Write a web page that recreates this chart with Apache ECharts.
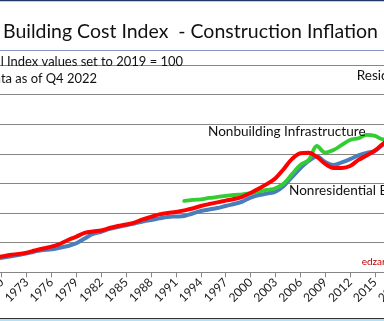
<!DOCTYPE html>
<html><head><meta charset="utf-8">
<script src="https://cdn.jsdelivr.net/npm/echarts@6/dist/echarts.min.js"></script>
<style>html,body{margin:0;padding:0;overflow:hidden;background:#fff;width:384px;height:321px;position:relative}
#c{position:absolute;left:-100px;top:0;width:600px;height:321px}</style>
</head><body><div id="c"></div>
<script>
const years = ['1967','1968','1969','1970','1971','1972','1973','1974','1975','1976','1977','1978','1979','1980','1981','1982','1983','1984','1985','1986','1987','1988','1989','1990','1991','1992','1993','1994','1995','1996','1997','1998','1999','2000','2001','2002','2003','2004','2005','2006','2007','2008','2009','2010','2011','2012','2013','2014','2015','2016','2017','2018','2019','2020','2021','2022','2023'];
const residential = [null,null,10.0,10.7,11.7,12.4,13.2,14.7,16.1,17.3,19.1,21.8,24.1,26.6,27.6,28.2,29.9,31.3,32.3,33.6,35.7,37.4,39.1,40.1,40.7,41.8,43.1,44.8,46.1,47.2,48.4,49.5,51.0,53.5,56.6,59.7,63.5,69.8,76.6,80.4,80.8,77.9,73.2,70.5,70.5,71.8,75.9,78.9,82.3,87.0,91,96,100,104,116,130,null];
const nonresidential = [null,null,9.1,9.8,10.7,11.7,12.8,14.1,15.1,15.5,16.6,17.8,19.6,22.8,25.9,27.4,29.3,30.6,31.8,33.0,34.3,35.3,36.4,37.4,37.7,38.0,39.7,41.4,42.4,43.4,44.8,46.1,47.7,50.5,52.2,53.2,54.5,58.3,64.4,70.3,75.2,78.2,74.5,72.5,74.2,76.4,78.9,80.6,82.0,86.5,89,95,100,103,112,125,null];
const infrastructure = [null,null,null,null,null,null,null,null,null,null,null,null,null,null,null,null,null,null,null,null,null,null,null,null,null,48.2,48.9,49.3,50.2,50.9,51.6,52.2,52.7,53.4,54.6,55.6,56.8,60.0,66.4,72.5,75.9,85.3,80.8,82.6,86.0,89.4,90.5,92.8,92.1,89.7,90,95,100,102,110,122,null];
const yTicks = {min:0, max:140, interval:20};

const OFF = 100;
const FAM = 'Lato, "Open Sans", sans-serif';
const ctx = document.createElement('canvas').getContext('2d');
function fit(text, w){ ctx.font = '100px ' + FAM; return 100 * w / ctx.measureText(text).width; }
const titleText = 'Building Cost Index  - Construction Inflation';
const titleSize = fit(titleText, 375);
const labelSize = fit('Nonbuilding Infrastructure', 157.7);
const subSize = fit('Index values set to 2019 = 100', 176);

function txt(x, y, text, size, opts){
  return Object.assign({type:'text', x: OFF + x, y: y, z: 100,
    style: Object.assign({text: text, fill:'#111', font: size.toFixed(2) + 'px ' + FAM,
      textAlign:'left', textVerticalAlign:'middle'}, opts||{})});
}

const chart = echarts.init(document.getElementById('c'), null, {renderer:'canvas'});
chart.setOption({
  animation:false,
  backgroundColor:'#fff',
  grid:{left:76.8, right:58.6, top:65, bottom:48.7, containLabel:false},
  xAxis:{type:'category', data:years, boundaryGap:false,
    axisLine:{lineStyle:{color:'#868686', width:1}},
    axisTick:{interval:2, length:5, lineStyle:{color:'#868686'}},
    axisLabel:{interval:2, rotate:45, margin:8, color:'#1a1a1a', fontSize:12, fontFamily:FAM},
    splitLine:{show:false}},
  yAxis:{type:'value', min:yTicks.min, max:yTicks.max, interval:yTicks.interval,
    axisLine:{show:false}, axisTick:{show:false}, axisLabel:{show:false},
    splitLine:{lineStyle:{color:'#868686', width:1}}},
  series:[
    {name:'Nonresidential Building', type:'line', data:nonresidential, smooth:0.35, symbol:'none', z:2,
      lineStyle:{color:'#4a7ebb', width:4, cap:'round', join:'round'}},
    {name:'Nonbuilding Infrastructure', type:'line', data:infrastructure, smooth:0.35, symbol:'none', z:3,
      lineStyle:{color:'#33cc33', width:3.8, cap:'round', join:'round'}},
    {name:'Residential', type:'line', data:residential, smooth:0.35, symbol:'none', z:4,
      lineStyle:{color:'#ff0000', width:4, cap:'round', join:'round'}}
  ],
  graphic:[
    {type:'rect', z:90, shape:{x:OFF, y:0, width:384, height:50}, style:{fill:'#fff'}},
    {type:'line', z:95, shape:{x1:OFF, y1:50.5, x2:OFF+384, y2:50.5}, style:{stroke:'#8497c4', lineWidth:1}},
    {type:'line', z:95, shape:{x1:OFF, y1:0.5, x2:OFF+384, y2:0.5}, style:{stroke:'#1f3864', lineWidth:1.5}},
    {type:'rect', z:95, shape:{x:OFF, y:318.5, width:384, height:3}, style:{fill:'#b3e0f7'}},
    {type:'line', z:96, shape:{x1:OFF, y1:318.5, x2:OFF+384, y2:318.5}, style:{stroke:'#333', lineWidth:1}},
    txt(3, 32, titleText, titleSize),
    txt(183, 61.5, 'All Index values set to 2019 = 100', subSize, {textAlign:'right'}),
    txt(97, 79, 'Data as of Q4 2022', subSize, {textAlign:'right'}),
    txt(356.7, 76, 'Residential', labelSize),
    txt(208, 132, 'Nonbuilding Infrastructure', labelSize),
    txt(289, 191, 'Nonresidential Building', labelSize),
    txt(361.7, 262, 'edzarenski.com', 10, {fill:'#c00000'})
  ]
});
</script></body></html>
